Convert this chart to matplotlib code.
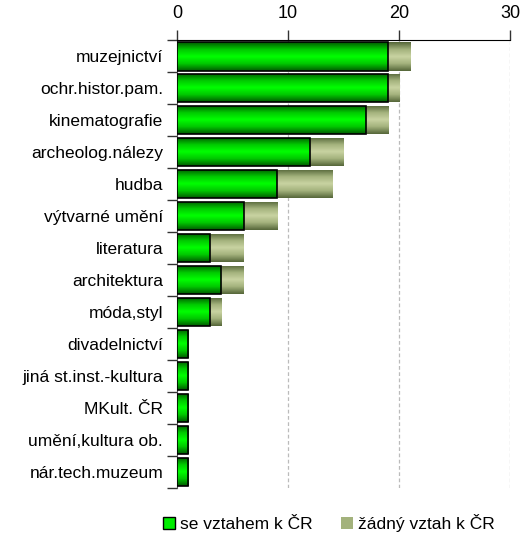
import numpy as np
import matplotlib
matplotlib.use("Agg")
import matplotlib.pyplot as plt
from matplotlib.colors import LinearSegmentedColormap
from matplotlib.patches import Patch

plt.rcParams['font.family'] = ['Liberation Sans', 'DejaVu Sans']

categories = ["muzejnictví", "ochr.histor.pam.", "kinematografie", "archeolog.nálezy",
              "hudba", "výtvarné umění", "literatura", "architektura", "móda,styl",
              "divadelnictví", "jiná st.inst.-kultura", "MKult. ČR",
              "umění,kultura ob.", "nár.tech.muzeum"]
se_vztahem = [19, 19, 17, 12, 9, 6, 3, 4, 3, 1, 1, 1, 1, 1]
zadny_vztah = [2, 1, 2, 3, 5, 3, 3, 2, 1, 0, 0, 0, 0, 0]
x_ticks = [0, 10, 20, 30]

green_cmap = LinearSegmentedColormap.from_list(
    "g", ["#005a00", "#00c800", "#00ff00", "#00c800", "#005a00"])
olive_cmap = LinearSegmentedColormap.from_list(
    "o", ["#56673a", "#a3b27c", "#c9d3a2", "#a3b27c", "#56673a"])


def shade(ax, bars, cmap):
    grad = np.linspace(0, 1, 64).reshape(-1, 1)
    for b in bars:
        if b.get_width() <= 0:
            continue
        x0, y0 = b.get_x(), b.get_y()
        im = ax.imshow(grad, cmap=cmap, aspect='auto', interpolation='bilinear',
                       extent=(x0, x0 + b.get_width(), y0 + b.get_height(), y0),
                       zorder=b.get_zorder() - 0.1)
        im.set_clip_path(b)


fig = plt.figure(figsize=(5.22, 5.35), dpi=100)
ax = fig.add_axes([0.339, 0.088, 0.638, 0.837])

y = np.arange(len(categories))
h = 0.9
b1 = ax.barh(y, se_vztahem, height=h, color="none", edgecolor="black",
             linewidth=1.2, zorder=3)
b2 = ax.barh(y, zadny_vztah, left=se_vztahem, height=h, color="none",
             edgecolor="none", linewidth=0, zorder=3)
shade(ax, b1, green_cmap)
shade(ax, b2, olive_cmap)

ax.set_xlim(0, 30)
ax.set_ylim(len(categories) - 0.5, -0.5)
ax.xaxis.tick_top()
ax.set_xticks(x_ticks)
ax.tick_params(axis='x', direction='out', length=7, width=1, colors='#333333',
               labelcolor='black', labelsize=13, pad=6)
ax.set_yticks(y)
ax.set_yticklabels(categories, fontsize=12.5)
ax.tick_params(axis='y', which='major', length=0, pad=10)
ax.set_yticks(np.arange(-0.5, len(categories), 1), minor=True)
ax.tick_params(axis='y', which='minor', direction='out', length=7, width=1,
               colors='#333333')

for xv in x_ticks[1:]:
    ax.axvline(xv, color='#bbbbbb', linestyle=(0, (3, 2)), linewidth=0.9, zorder=1)

ax.spines['right'].set_visible(False)
ax.spines['bottom'].set_visible(False)
ax.spines['top'].set_color('black')
ax.spines['left'].set_color('#555555')

handles = [Patch(facecolor="#00ee00", edgecolor="black", linewidth=1),
           Patch(facecolor="#a3b27c", edgecolor="none")]
fig.legend(handles, ["se vztahem k ČR", "žádný vztah k ČR"], loc='center',
           bbox_to_anchor=(0.63, 0.022), ncol=2, frameon=False, fontsize=12.5,
           handlelength=0.7, handleheight=0.7, handletextpad=0.3, columnspacing=1.6)

fig.savefig("out.png", dpi=100)
